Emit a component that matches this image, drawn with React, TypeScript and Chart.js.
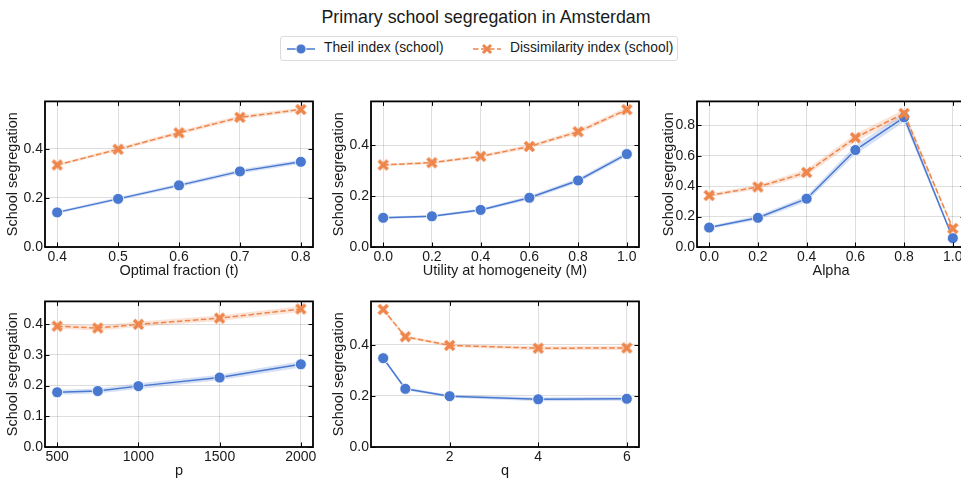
import React, { useEffect, useRef } from "react";
import { Chart, registerables } from "chart.js";
Chart.register(...registerables);

const FONT = "'Liberation Sans', Arial, Helvetica, sans-serif";
const BLUE = "#4878d0";
const ORANGE = "#ee854a";
const BLUE_BAND = "rgba(72,120,208,0.22)";
const ORANGE_BAND = "rgba(238,133,74,0.22)";
const TEXT = "#1a1a1a";

const TITLE = "Primary school segregation in Amsterdam";
const LEGEND_THEIL = "Theil index (school)";
const LEGEND_DISS = "Dissimilarity index (school)";
const Y_LABEL = "School segregation";

// Panel 1: optimal fraction (t)
const tValues = [0.4, 0.5, 0.6, 0.7, 0.8];
const theilT = [0.141, 0.196, 0.251, 0.308, 0.347];
const theilTErr = [0.006, 0.007, 0.008, 0.009, 0.009];
const dissT = [0.334, 0.398, 0.465, 0.528, 0.56];
const dissTErr = [0.006, 0.007, 0.008, 0.009, 0.008];
const tTicks = [0.4, 0.5, 0.6, 0.7, 0.8];
const tYTicks = [0, 0.2, 0.4];

// Panel 2: utility at homogeneity (M)
const mValues = [0, 0.2, 0.4, 0.6, 0.8, 1.0];
const theilM = [0.115, 0.121, 0.146, 0.194, 0.262, 0.366];
const theilMErr = [0.005, 0.005, 0.006, 0.008, 0.009, 0.01];
const dissM = [0.323, 0.332, 0.357, 0.396, 0.454, 0.541];
const dissMErr = [0.005, 0.006, 0.006, 0.008, 0.009, 0.01];
const mTicks = [0, 0.2, 0.4, 0.6, 0.8, 1.0];
const mYTicks = [0, 0.2, 0.4];

// Panel 3: alpha
const aValues = [0, 0.2, 0.4, 0.6, 0.8, 1.0];
const theilA = [0.128, 0.192, 0.318, 0.638, 0.853, 0.058];
const theilAErr = [0.01, 0.015, 0.02, 0.03, 0.03, 0.012];
const dissA = [0.339, 0.395, 0.491, 0.719, 0.879, 0.122];
const dissAErr = [0.012, 0.015, 0.02, 0.025, 0.025, 0.012];
const aTicks = [0, 0.2, 0.4, 0.6, 0.8, 1.0];
const aYTicks = [0, 0.2, 0.4, 0.6, 0.8];

// Panel 4: p
const pValues = [500, 750, 1000, 1500, 2000];
const theilP = [0.178, 0.182, 0.198, 0.226, 0.269];
const theilPErr = [0.008, 0.008, 0.009, 0.009, 0.01];
const dissP = [0.393, 0.387, 0.399, 0.419, 0.449];
const dissPErr = [0.008, 0.008, 0.009, 0.009, 0.01];
const pTicks = [500, 1000, 1500, 2000];
const pYTicks = [0, 0.1, 0.2, 0.3, 0.4];

// Panel 5: q
const qValues = [0.5, 1, 2, 4, 6];
const theilQ = [0.348, 0.228, 0.199, 0.187, 0.189];
const theilQErr = [0.008, 0.006, 0.006, 0.008, 0.008];
const dissQ = [0.539, 0.432, 0.398, 0.387, 0.388];
const dissQErr = [0.008, 0.006, 0.006, 0.008, 0.008];
const qTicks = [2, 4, 6];
const qYTicks = [0, 0.2, 0.4];

type PanelCfg = {
  xs: number[];
  theil: number[];
  theilErr: number[];
  diss: number[];
  dissErr: number[];
  xMin: number;
  xMax: number;
  yMax: number;
  xTicks: number[];
  yTicks: number[];
  xDec: number;
  xLabel: string;
  left: number;
  top: number;
  yTitlePad: number;
};

const PANELS: PanelCfg[] = [
  { xs: tValues, theil: theilT, theilErr: theilTErr, diss: dissT, dissErr: dissTErr, xMin: 0.38, xMax: 0.82, yMax: 0.593, xTicks: tTicks, yTicks: tYTicks, xDec: 1, xLabel: "Optimal fraction (t)", left: 45, top: 97, yTitlePad: 4.3 },
  { xs: mValues, theil: theilM, theilErr: theilMErr, diss: dissM, dissErr: dissMErr, xMin: -0.05, xMax: 1.05, yMax: 0.5735, xTicks: mTicks, yTicks: mYTicks, xDec: 1, xLabel: "Utility at homogeneity (M)", left: 371, top: 97, yTitlePad: 4.3 },
  { xs: aValues, theil: theilA, theilErr: theilAErr, diss: dissA, dissErr: dissAErr, xMin: -0.05, xMax: 1.05, yMax: 0.958, xTicks: aTicks, yTicks: aYTicks, xDec: 1, xLabel: "Alpha", left: 697, top: 97, yTitlePad: 7.8 },
  { xs: pValues, theil: theilP, theilErr: theilPErr, diss: dissP, dissErr: dissPErr, xMin: 425, xMax: 2075, yMax: 0.4736, xTicks: pTicks, yTicks: pYTicks, xDec: 0, xLabel: "p", left: 45, top: 297, yTitlePad: 4.3 },
  { xs: qValues, theil: theilQ, theilErr: theilQErr, diss: dissQ, dissErr: dissQErr, xMin: 0.225, xMax: 6.275, yMax: 0.5705, xTicks: qTicks, yTicks: qYTicks, xDec: 0, xLabel: "q", left: 371, top: 297, yTitlePad: 4.3 },
];

const PW = 270;
const PH = 150;
const L = 45;
const T = 6;
const R = 6;
const B = 35;

function makeXMarker(size: number, color: string): HTMLCanvasElement {
  const c = document.createElement("canvas");
  c.width = size;
  c.height = size;
  const g = c.getContext("2d")!;
  const h = size / 2;
  const a = size * 0.34;
  g.translate(h, h);
  g.strokeStyle = color;
  g.lineWidth = size * 0.28;
  g.lineCap = "butt";
  g.beginPath();
  g.moveTo(-a, -a);
  g.lineTo(a, a);
  g.moveTo(-a, a);
  g.lineTo(a, -a);
  g.stroke();
  return c;
}

const framePlugin = {
  id: "frameTicks",
  afterDraw(chart: any) {
    const { ctx, chartArea } = chart;
    const { left, top, right, bottom } = chartArea;
    const xs = chart.scales.x;
    const ys = chart.scales.y;
    const len = 4.5;
    ctx.save();
    ctx.strokeStyle = "#000";
    ctx.lineWidth = 1;
    ctx.beginPath();
    xs.ticks.forEach((t: any) => {
      const px = Math.round(xs.getPixelForValue(t.value)) + 0.5;
      ctx.moveTo(px, bottom);
      ctx.lineTo(px, bottom - len);
      ctx.moveTo(px, top);
      ctx.lineTo(px, top + len);
    });
    ys.ticks.forEach((t: any) => {
      const py = Math.round(ys.getPixelForValue(t.value)) + 0.5;
      ctx.moveTo(left, py);
      ctx.lineTo(left + len, py);
      ctx.moveTo(right, py);
      ctx.lineTo(right - len, py);
    });
    ctx.stroke();
    ctx.lineWidth = 1.8;
    ctx.strokeRect(left, top, right - left, bottom - top);
    ctx.restore();
  },
};

function Panel({ cfg }: { cfg: PanelCfg }) {
  const ref = useRef<HTMLCanvasElement | null>(null);
  useEffect(() => {
    if (!ref.current) return;
    const xMarker = makeXMarker(13, ORANGE);
    const pts = (ys: number[]) => cfg.xs.map((x, i) => ({ x, y: ys[i] }));
    const lo = (ys: number[], e: number[]) => cfg.xs.map((x, i) => ({ x, y: ys[i] - e[i] }));
    const hi = (ys: number[], e: number[]) => cfg.xs.map((x, i) => ({ x, y: ys[i] + e[i] }));
    const bandBase = { borderWidth: 0, pointRadius: 0, showLine: true, borderColor: "transparent" };
    const tickFont = { family: FONT, size: 14 };
    const titleFont = { family: FONT, size: 14.5 };
    const gridColor = "rgba(0,0,0,0.13)";
    const chart = new Chart(ref.current, {
      type: "line",
      data: {
        datasets: [
          { ...bandBase, data: lo(cfg.theil, cfg.theilErr), fill: false, order: 5 },
          { ...bandBase, data: hi(cfg.theil, cfg.theilErr), fill: "-1", backgroundColor: BLUE_BAND, order: 4 },
          { ...bandBase, data: lo(cfg.diss, cfg.dissErr), fill: false, order: 3 },
          { ...bandBase, data: hi(cfg.diss, cfg.dissErr), fill: "-1", backgroundColor: ORANGE_BAND, order: 2 },
          {
            data: pts(cfg.theil),
            borderColor: BLUE,
            backgroundColor: BLUE,
            borderWidth: 1.5,
            pointRadius: 5.5,
            pointBackgroundColor: BLUE,
            pointBorderColor: "#ffffff",
            pointBorderWidth: 0.8,
            fill: false,
            order: 1,
          },
          {
            data: pts(cfg.diss),
            borderColor: ORANGE,
            backgroundColor: ORANGE,
            borderWidth: 1.5,
            borderDash: [5.5, 2.5],
            pointStyle: xMarker as any,
            pointRadius: 6.5,
            fill: false,
            order: 0,
          },
        ] as any,
      },
      options: {
        animation: false,
        responsive: false,
        devicePixelRatio: 1,
        layout: { padding: { top: T, right: R, left: 0, bottom: 0 } },
        plugins: { legend: { display: false }, tooltip: { enabled: false } },
        elements: { line: { tension: 0 } },
        scales: {
          x: {
            type: "linear",
            min: cfg.xMin,
            max: cfg.xMax,
            afterBuildTicks: (s: any) => {
              s.ticks = cfg.xTicks.map((v) => ({ value: v }));
            },
            afterFit: (s: any) => {
              s.height = B;
            },
            grid: { color: gridColor, lineWidth: 1, drawTicks: false },
            border: { display: false },
            ticks: {
              padding: 2,
              font: tickFont,
              color: TEXT,
              autoSkip: false,
              maxRotation: 0,
              callback: (v: any) => Number(v).toFixed(cfg.xDec),
            },
            title: { display: true, text: cfg.xLabel, font: titleFont, color: TEXT, padding: { top: 0, bottom: 2 } },
          },
          y: {
            type: "linear",
            min: 0,
            max: cfg.yMax,
            afterBuildTicks: (s: any) => {
              s.ticks = cfg.yTicks.map((v) => ({ value: v }));
            },
            afterFit: (s: any) => {
              s.width = L;
            },
            grid: { color: gridColor, lineWidth: 1, drawTicks: false },
            border: { display: false },
            ticks: {
              padding: 2,
              font: tickFont,
              color: TEXT,
              autoSkip: false,
              callback: (v: any) => Number(v).toFixed(1),
            },
            title: { display: true, text: Y_LABEL, font: titleFont, color: TEXT, padding: { top: cfg.yTitlePad, bottom: 0 } },
          },
        },
      } as any,
      plugins: [framePlugin],
    });
    return () => chart.destroy();
  }, [cfg]);
  const w = PW + L + R;
  const h = PH + T + B;
  return (
    <canvas
      ref={ref}
      width={w}
      height={h}
      style={{ position: "absolute", left: cfg.left - L, top: cfg.top - T, width: w, height: h }}
    />
  );
}

function LegendSymbols({ kind }: { kind: "theil" | "diss" }) {
  if (kind === "theil") {
    return (
      <svg width={28} height={14} style={{ position: "absolute", left: 6, top: 5 }}>
        <line x1={0} y1={7} x2={28} y2={7} stroke={BLUE} strokeWidth={1.5} />
        <circle cx={14} cy={7} r={5} fill={BLUE} stroke="#fff" strokeWidth={0.8} />
      </svg>
    );
  }
  return (
    <svg width={28} height={14} style={{ position: "absolute", left: 192, top: 5 }}>
      <line x1={0} y1={7} x2={28} y2={7} stroke={ORANGE} strokeWidth={1.5} strokeDasharray="5.5 2.5" />
      <g stroke={ORANGE} strokeWidth={3} strokeLinecap="butt">
        <line x1={10} y1={3} x2={18} y2={11} />
        <line x1={10} y1={11} x2={18} y2={3} />
      </g>
    </svg>
  );
}

export default function App() {
  return (
    <div
      style={{
        position: "fixed",
        left: 0,
        top: 0,
        width: 961,
        height: 479,
        overflow: "hidden",
        background: "#ffffff",
        fontFamily: FONT,
      }}
    >
      <div
        style={{
          position: "absolute",
          left: 486,
          top: 7,
          transform: "translateX(-50%)",
          whiteSpace: "nowrap",
          fontSize: 17.8,
          lineHeight: "20px",
          color: TEXT,
        }}
      >
        {TITLE}
      </div>
      <div
        style={{
          position: "absolute",
          left: 280,
          top: 36,
          width: 398,
          height: 25,
          boxSizing: "border-box",
          border: "1px solid #dcdcdc",
          borderRadius: 3,
          fontSize: 13.8,
          color: TEXT,
        }}
      >
        <LegendSymbols kind="theil" />
        <span style={{ position: "absolute", left: 43, top: 3, lineHeight: "16px", whiteSpace: "nowrap" }}>
          {LEGEND_THEIL}
        </span>
        <LegendSymbols kind="diss" />
        <span style={{ position: "absolute", left: 229, top: 3, lineHeight: "16px", whiteSpace: "nowrap" }}>
          {LEGEND_DISS}
        </span>
      </div>
      {PANELS.map((p, i) => (
        <Panel key={i} cfg={p} />
      ))}
    </div>
  );
}
